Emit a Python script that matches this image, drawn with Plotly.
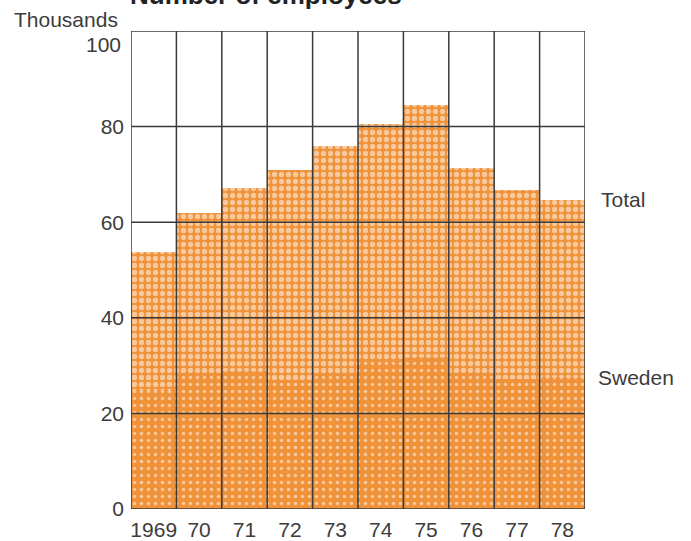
import plotly.graph_objects as go

# ---- data ----
year_labels = ["1969", "70", "71", "72", "73", "74", "75", "76", "77", "78"]
total = [53.7, 62.0, 67.2, 71.0, 76.0, 80.6, 84.6, 71.4, 66.8, 64.7]
sweden = [24.8, 28.4, 28.8, 26.9, 28.2, 30.9, 31.7, 28.4, 27.3, 27.6]
y_ticks = [0, 20, 40, 60, 80, 100]

abroad = [round(t - s, 2) for t, s in zip(total, sweden)]
xpos = list(range(len(year_labels)))

ORANGE = "#F0923A"
ORANGE_LIGHT = "#F3A25A"
LINE = "#3a3a3a"
TEXT = "#3c3c3c"
FONT = "Liberation Sans, Arial, sans-serif"

fig = go.Figure()
fig.add_trace(go.Bar(
    x=xpos, y=sweden, name="Sweden", width=1,
    marker=dict(color=ORANGE, line=dict(width=0),
                pattern=dict(shape=".", bgcolor=ORANGE, fgcolor="white",
                             size=7, solidity=0.2)),
))
fig.add_trace(go.Bar(
    x=xpos, y=abroad, name="Other", width=1,
    marker=dict(color=ORANGE_LIGHT, line=dict(width=0),
                pattern=dict(shape=".", bgcolor=ORANGE, fgcolor="white",
                             size=7, solidity=0.45)),
))

# grid lines drawn above the bars
shapes = []
for v in y_ticks:
    shapes.append(dict(type="line", xref="x", yref="y", x0=-0.5, x1=len(xpos) - 0.5,
                       y0=v, y1=v, line=dict(color=LINE, width=1.5), layer="above"))
for i in range(len(xpos) + 1):
    shapes.append(dict(type="line", xref="x", yref="y", x0=i - 0.5, x1=i - 0.5,
                       y0=0, y1=y_ticks[-1], line=dict(color=LINE, width=1.5), layer="above"))

annotations = [
    dict(text="<b>Number of employees</b>", xref="paper", yref="paper",
         x=-0.0066, y=1.0749, xanchor="left", yanchor="middle", showarrow=False,
         font=dict(family=FONT, size=26, color="#222")),
    dict(text="Thousands", xref="paper", yref="paper",
         x=-0.0242, y=1.0251, xanchor="right", yanchor="middle", showarrow=False,
         font=dict(family=FONT, size=21, color=TEXT)),
    dict(text=str(y_ticks[-1]), xref="paper", yref="y",
         x=-0.017, y=y_ticks[-1], yshift=-13, xanchor="right", yanchor="middle",
         showarrow=False, font=dict(family=FONT, size=21, color=TEXT)),
    dict(text="Total", xref="x", yref="y", x=xpos[-1] + 0.5, y=total[-1],
         xshift=14, xanchor="left", yanchor="middle", showarrow=False,
         font=dict(family=FONT, size=21, color=TEXT)),
    dict(text="Sweden", xref="x", yref="y", x=xpos[-1] + 0.5, y=sweden[-1],
         xshift=11, xanchor="left", yanchor="middle", showarrow=False,
         font=dict(family=FONT, size=21, color=TEXT)),
]

fig.update_layout(
    width=691, height=541,
    margin=dict(l=131, r=106, t=31, b=32, pad=0, autoexpand=False),
    paper_bgcolor="white", plot_bgcolor="white",
    barmode="stack", bargap=0, showlegend=False,
    shapes=shapes, annotations=annotations,
    font=dict(family=FONT, size=21, color=TEXT),
    xaxis=dict(range=[-0.5, len(xpos) - 0.5], tickvals=xpos, ticktext=year_labels,
               showgrid=False, zeroline=False, showline=False, ticks="",
               automargin=False,
               ticklabelstandoff=6, tickfont=dict(family=FONT, size=21, color=TEXT)),
    yaxis=dict(range=[0, 100], tickvals=y_ticks[:-1], ticktext=[str(v) for v in y_ticks[:-1]],
               showgrid=False, zeroline=False, showline=False, ticks="",
               automargin=False,
               ticklabelstandoff=6, tickfont=dict(family=FONT, size=21, color=TEXT)),
)

fig.write_html("out.html")
